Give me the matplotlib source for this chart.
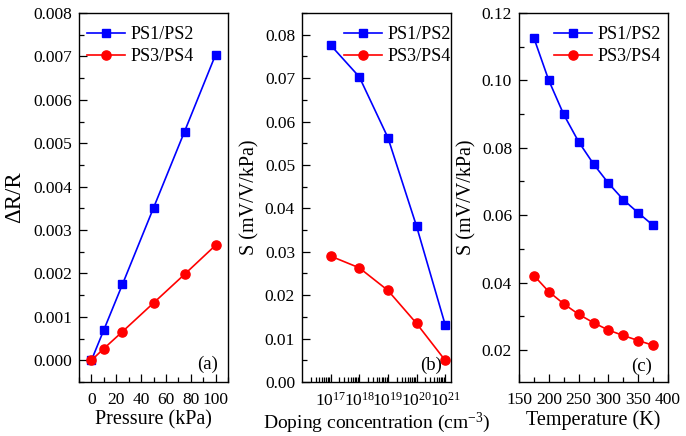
import math
import matplotlib
matplotlib.use("Agg")
import matplotlib.pyplot as plt
from matplotlib.ticker import (MultipleLocator, LogLocator, NullFormatter, FixedLocator,
                               FormatStrFormatter, FuncFormatter)

plt.rcParams['font.family'] = ['Liberation Serif', 'DejaVu Serif']
plt.rcParams['mathtext.fontset'] = 'custom'
plt.rcParams['mathtext.rm'] = 'Liberation Serif'
plt.rcParams['mathtext.it'] = 'Liberation Serif:italic'

# (a) pressure
pressure = [0, 10, 25, 50, 75, 100]
dr_ps12 = [0.0, 0.00070, 0.00175, 0.00351, 0.00527, 0.00704]
dr_ps34 = [0.0, 0.00027, 0.00066, 0.00132, 0.00198, 0.00265]

# (b) doping
doping = [1e17, 1e18, 1e19, 1e20, 1e21]
s_dop_ps12 = [0.0776, 0.0703, 0.0563, 0.0359, 0.0132]
s_dop_ps34 = [0.0290, 0.0263, 0.0211, 0.0135, 0.0050]

# (c) temperature
temperature = [175, 200, 225, 250, 275, 300, 325, 350, 375]
s_t_ps12 = [0.1126, 0.1000, 0.0899, 0.0818, 0.0752, 0.0695, 0.0646, 0.0607, 0.0570]
s_t_ps34 = [0.0421, 0.0373, 0.0337, 0.0306, 0.0281, 0.0259, 0.0243, 0.0228, 0.0214]

labels = ['PS1/PS2', 'PS3/PS4']

W, H = 686, 436
fig = plt.figure(figsize=(W/100, H/100), dpi=100)

def add_ax(l, r, t, b):
    return fig.add_axes([l/W, 1 - b/H, (r-l)/W, (b-t)/H])

axa = add_ax(79, 228, 13, 382)
axb = add_ax(302, 451, 13, 382)
axc = add_ax(519, 668, 13, 382)

TS = 12.5
LS = 14.5
LEG = 13
AXW, AXH = 149, 369

def plot_pair(ax, x, y1, y2, lx):
    ax.plot(x, y1, color='#0000ff', marker='s', markersize=5.8, lw=1.2, label=labels[0])
    ax.plot(x, y2, color='#ff0000', marker='o', markersize=6.6, lw=1.2, label=labels[1])
    ax.legend(loc='upper left', bbox_to_anchor=(lx / AXW, 1 - 13 / AXH), frameon=False,
              fontsize=LEG, handlelength=2.1, handletextpad=0.3, borderaxespad=0,
              borderpad=0, labelspacing=0.3)

def panel_label(ax, s, dx, dy):
    ax.text(1 - dx / AXW, dy / AXH, s, transform=ax.transAxes, ha='right', va='bottom',
            fontsize=13.5)

for ax in (axa, axb, axc):
    ax.tick_params(which='both', direction='in', top=False, right=False, labelsize=TS)
    ax.tick_params(which='major', length=6, width=0.9)
    ax.tick_params(which='minor', length=3.5, width=0.9)
    ax.tick_params(axis='x', which='both', pad=7)
    ax.tick_params(axis='y', which='both', pad=5)
    for s in ax.spines.values():
        s.set_linewidth(1.0)

# (a)
plot_pair(axa, pressure, dr_ps12, dr_ps34, 8)
axa.set_xlim(-10, 110)
axa.set_ylim(-0.0005, 0.008)
axa.xaxis.set_major_locator(MultipleLocator(20))
axa.xaxis.set_minor_locator(MultipleLocator(10))
axa.yaxis.set_major_locator(MultipleLocator(0.001))
axa.yaxis.set_minor_locator(MultipleLocator(0.0005))
axa.yaxis.set_major_formatter(FormatStrFormatter('%.3f'))
axa.set_xlabel('Pressure (kPa)', fontsize=LS, labelpad=2)
axa.set_ylabel('ΔR/R', fontsize=16.5, labelpad=6)
panel_label(axa, '(a)', 10, 9)

# (b)
plot_pair(axb, doping, s_dop_ps12, s_dop_ps34, 42)
axb.set_xscale('log')
axb.set_xlim(1e16, 1.6e21)
axb.set_ylim(0, 0.085)
axb.xaxis.set_major_locator(FixedLocator(doping))
axb.xaxis.set_minor_locator(LogLocator(base=10, subs=range(2, 10), numticks=20))
axb.xaxis.set_minor_formatter(NullFormatter())
axb.xaxis.set_major_formatter(FuncFormatter(lambda v, p: r'$10^{%d}$' % round(math.log10(v))))
axb.yaxis.set_major_locator(MultipleLocator(0.01))
axb.yaxis.set_minor_locator(MultipleLocator(0.005))
axb.yaxis.set_major_formatter(FormatStrFormatter('%.2f'))
axb.set_xlabel('Doping concentration (cm$^{-3}$)', fontsize=14, labelpad=0.5)
axb.set_ylabel('S (mV/V/kPa)', fontsize=LS, labelpad=4)
panel_label(axb, '(b)', 9, 8)

# (c)
plot_pair(axc, temperature, s_t_ps12, s_t_ps34, 35)
axc.set_xlim(150, 400)
axc.set_ylim(0.0105, 0.12)
axc.xaxis.set_major_locator(MultipleLocator(50))
axc.xaxis.set_minor_locator(MultipleLocator(25))
axc.yaxis.set_major_locator(MultipleLocator(0.02))
axc.yaxis.set_minor_locator(MultipleLocator(0.01))
axc.yaxis.set_major_formatter(FormatStrFormatter('%.2f'))
axc.set_xlabel('Temperature (K)', fontsize=LS, labelpad=2)
axc.set_ylabel('S (mV/V/kPa)', fontsize=LS, labelpad=4)
panel_label(axc, '(c)', 16, 7)

fig.savefig('out.png', dpi=100)
